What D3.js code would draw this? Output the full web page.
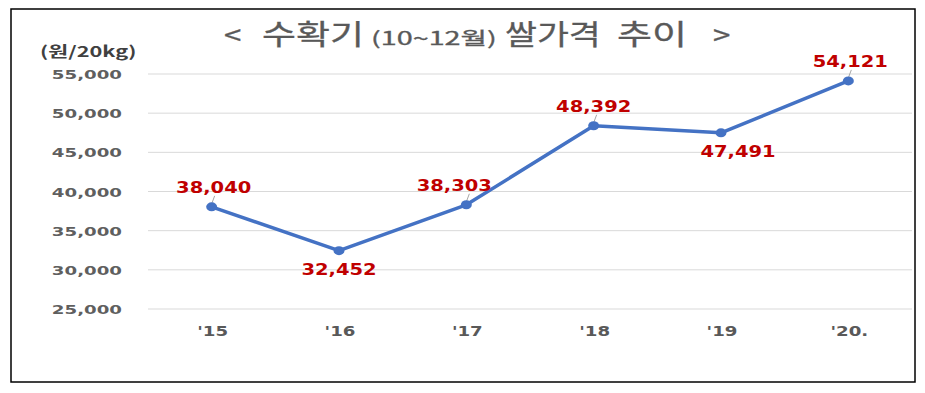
<!DOCTYPE html>
<html>
<head>
<meta charset="utf-8">
<script src="https://cdn.jsdelivr.net/npm/d3@7.9.0/dist/d3.min.js"></script>
<style>
  body { margin: 0; background: #fff; }
  svg text { font-family: "DejaVu Sans", sans-serif; }
</style>
</head>
<body>
<svg id="chart" width="925" height="393"></svg>
<script>
const years = ["'15", "'16", "'17", "'18", "'19", "'20."];
const prices = [38040, 32452, 38303, 48392, 47491, 54121];
const labelBelow = [false, true, false, false, true, false];
const yTicks = [25000, 30000, 35000, 40000, 45000, 50000, 55000];

const svg = d3.select('#chart');
const margin = { left: 148, right: 13, top: 74, bottom: 84 };
const width = 925, height = 393;

const x = d3.scaleBand().domain(years).range([margin.left, width - margin.right]);
const y = d3.scaleLinear().domain([25000, 55000]).range([height - margin.bottom, margin.top]);
const fmt = d3.format(',');

// outer frame
svg.append('rect')
  .attr('x', 11).attr('y', 9).attr('width', 904).attr('height', 373)
  .attr('fill', 'none').attr('stroke', '#000').attr('stroke-width', 1.5);

// wide text helper (the original glyphs are stretched sideways)
function wideText(g, tx, ty, str, sx) {
  return g.append('text')
    .attr('transform', `translate(${tx},${ty}) scale(${sx},1)`)
    .text(str);
}

// gridlines
svg.append('g')
  .selectAll('line')
  .data(yTicks)
  .join('line')
  .attr('x1', margin.left).attr('x2', width - margin.right)
  .attr('y1', (d) => y(d)).attr('y2', (d) => y(d))
  .attr('stroke', '#d9d9d9').attr('stroke-width', 1);

// y labels
const yLab = svg.append('g')
  .attr('font-size', 13).attr('font-weight', 'bold')
  .attr('fill', '#5f5f5f').attr('text-anchor', 'end');
yTicks.forEach((t) => {
  wideText(yLab, 122, y(t) + 5, fmt(t), 1.4);
});

// unit
const unit = svg.append('g')
  .attr('font-size', 15).attr('font-weight', 'bold')
  .attr('fill', '#404040');
wideText(unit, 40, 57, '(원/20kg)', 1.45).style('font-family', '"Noto Sans CJK KR", sans-serif');

// x labels
const xLab = svg.append('g')
  .attr('font-size', 14).attr('font-weight', 'bold')
  .attr('fill', '#595959').attr('text-anchor', 'middle');
years.forEach((yr) => {
  wideText(xLab, x(yr) + x.bandwidth() / 2 + 1, 336, yr, 1.3);
});

// title
const title = svg.append('g')
  .attr('fill', '#595959')
  .attr('stroke', '#595959').attr('stroke-width', 0.3);
[
  ['<', 224, 26, 1.2],
  ['수확기', 262, 28, 1.32],
  ['(10~12월)', 371, 18, 1.6],
  ['쌀가격', 505, 28, 1.24],
  ['추이', 617, 28, 1.36],
  ['>', 713, 26, 1.2],
].forEach(([s, tx, fs, sx]) => {
  wideText(title, tx, 45, s, sx)
    .attr('font-size', fs)
    .style('font-family', '"Noto Sans CJK KR", sans-serif');
});

// line
const cx = (i) => x(years[i]) + x.bandwidth() / 2;
const line = d3.line()
  .x((d, i) => cx(i))
  .y((d) => y(d));

svg.append('path')
  .datum(prices)
  .attr('d', line)
  .attr('fill', 'none')
  .attr('stroke', '#4472c4')
  .attr('stroke-width', 3.5)
  .attr('stroke-linejoin', 'round');

// small leader ticks above points
const pts = prices.map((p, i) => ({ p, i }));
svg.append('g')
  .selectAll('line')
  .data(pts.filter((d) => !labelBelow[d.i]))
  .join('line')
  .attr('x1', (d) => cx(d.i)).attr('x2', (d) => cx(d.i) + 3)
  .attr('y1', (d) => y(d.p) - 3).attr('y2', (d) => y(d.p) - 11)
  .attr('stroke', '#a6a6a6').attr('stroke-width', 1);

svg.append('g')
  .selectAll('ellipse')
  .data(pts)
  .join('ellipse')
  .attr('cx', (d) => cx(d.i))
  .attr('cy', (d) => y(d.p))
  .attr('rx', 5.5).attr('ry', 4.5)
  .attr('fill', '#4472c4');

// value labels
const vLab = svg.append('g')
  .attr('font-size', 15).attr('font-weight', 'bold')
  .attr('fill', '#c00000').attr('text-anchor', 'middle');
const labelDx = [2, 0, -12, 0, 17, 2];
prices.forEach((p, i) => {
  const ty = labelBelow[i] ? y(p) + 24 : y(p) - 14;
  wideText(vLab, cx(i) + labelDx[i], ty, fmt(p), 1.3);
});
</script>
</body>
</html>
